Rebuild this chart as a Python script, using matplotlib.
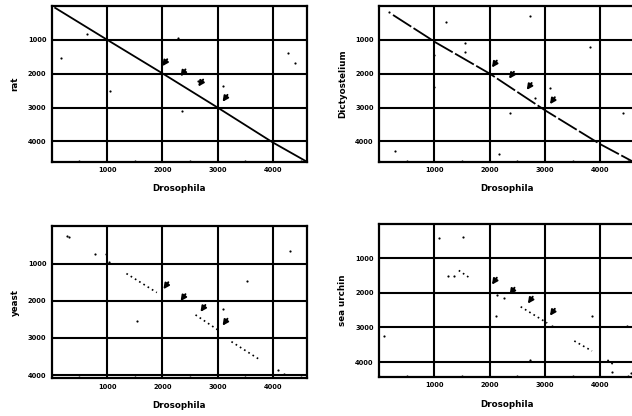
import matplotlib.pyplot as plt
from matplotlib.ticker import MultipleLocator

# Dot plot data, residue positions (Drosophila on x)
ticks = [1000, 2000, 3000, 4000]

# rat
rat_dots_x = [630, 160, 1050, 2290, 2640, 3100, 2360, 4280, 4400]
rat_dots_y = [820, 1540, 2500, 940, 2230, 2350, 3100, 1390, 1690]
rat_line_x = [60, 1000, 2000, 3000, 4000, 4640]
rat_line_y = [60, 1000, 1990, 3000, 4030, 4620]
rat_arrow_x = [2000, 2330, 2650, 3090]
rat_arrow_y = [1780, 2080, 2380, 2830]

# Dictyostelium
dic_dots_x = [180, 1200, 2730, 1560, 1560, 1000, 1000, 3820, 3090, 2820, 2360, 4420, 290, 2160]
dic_dots_y = [180, 480, 300, 1090, 1360, 1450, 2400, 1210, 2430, 2730, 3150, 3150, 4270, 4360]
dic_line_x = [250, 900, 1000, 2000, 3000, 4000, 4620]
dic_line_y = [270, 950, 1060, 2000, 3080, 4080, 4620]
dic_arrow_x = [2040, 2350, 2670, 3090]
dic_arrow_y = [1820, 2150, 2480, 2900]

# yeast
yst_dots_x = [270, 310, 780, 980, 1040, 4310, 3540, 3090, 1550, 4100, 4200]
yst_dots_y = [260, 280, 735, 735, 970, 655, 1480, 2220, 2540, 3860, 3970]
yst_line_x = [1350, 1900, None, 2600, 3050, None, 3250, 3780]
yst_line_y = [1270, 1780, None, 2380, 2830, None, 3100, 3600]
yst_arrow_x = [2020, 2330, 2690, 3090]
yst_arrow_y = [1690, 2010, 2300, 2670]

# sea urchin
urc_dots_x = [1090, 1510, 1240, 1360, 2130, 2250, 2110, 3130, 3850, 4490, 90, 2730, 4220, 4550]
urc_dots_y = [420, 390, 1500, 1500, 2050, 2140, 2660, 2950, 2660, 2950, 3240, 3940, 4290, 4320]
urc_line_x = [1440, 1650, None, 2560, 3040, None, 3530, 3850, None, 4130, 4250]
urc_line_y = [1350, 1580, None, 2400, 2870, None, 3390, 3680, None, 3940, 4090]
urc_arrow_x = [2040, 2360, 2690, 3090]
urc_arrow_y = [1760, 2050, 2310, 2660]


def to_float(vals):
    return [float('nan') if v is None else v for v in vals]


def panel(ax, ylabel, ylim, dx, dy, lx, ly, ax_, ay_, line_style):
    ax.set_xlim(0, 4620)
    ax.set_ylim(ylim, 0)
    ax.set_xticks(ticks)
    ax.set_yticks(ticks)
    ax.xaxis.set_minor_locator(MultipleLocator(500))
    ax.grid(True, color='black', linewidth=1.5)
    ax.set_axisbelow(True)
    for s in ax.spines.values():
        s.set_linewidth(1.6)
    ax.tick_params(which='major', length=0, pad=4, labelsize=4.8)
    ax.tick_params(which='minor', length=1.5, direction='in', width=1.0)
    for lab in ax.get_xticklabels() + ax.get_yticklabels():
        lab.set_fontweight('heavy')
    ax.set_xlabel('Drosophila', fontsize=6.3, fontweight='heavy', labelpad=8)
    ax.set_ylabel(ylabel, fontsize=6.3, fontweight='heavy', labelpad=6)

    ax.plot(to_float(lx), to_float(ly), color='black', **line_style)
    ax.scatter(dx, dy, s=2.5, color='black', linewidths=0)
    # arrowheads marking the conserved repeats
    for x, y in zip(ax_, ay_):
        ax.annotate('', xy=(x, y), xytext=(3.5, 5), textcoords='offset points',
                    arrowprops=dict(arrowstyle='-|>', color='black', lw=1.4,
                                    mutation_scale=8, shrinkA=0, shrinkB=0))


fig = plt.figure(figsize=(6.32, 4.16), dpi=100)
ax1 = fig.add_axes([0.082, 0.611, 0.404, 0.375])
ax2 = fig.add_axes([0.600, 0.611, 0.404, 0.375])
ax3 = fig.add_axes([0.082, 0.091, 0.404, 0.365])
ax4 = fig.add_axes([0.600, 0.094, 0.404, 0.368])

panel(ax1, 'rat', 4600, rat_dots_x, rat_dots_y, rat_line_x, rat_line_y,
      rat_arrow_x, rat_arrow_y, dict(linewidth=1.3))
panel(ax2, 'Dictyostelium', 4600, dic_dots_x, dic_dots_y, dic_line_x, dic_line_y,
      dic_arrow_x, dic_arrow_y, dict(linewidth=1.3, dashes=(12, 1.5)))
panel(ax3, 'yeast', 4080, yst_dots_x, yst_dots_y, yst_line_x, yst_line_y,
      yst_arrow_x, yst_arrow_y, dict(linewidth=1.2, dashes=(1, 2)))
panel(ax4, 'sea urchin', 4430, urc_dots_x, urc_dots_y, urc_line_x, urc_line_y,
      urc_arrow_x, urc_arrow_y, dict(linewidth=1.2, dashes=(1, 2)))

fig.savefig('out.png', dpi=100)
